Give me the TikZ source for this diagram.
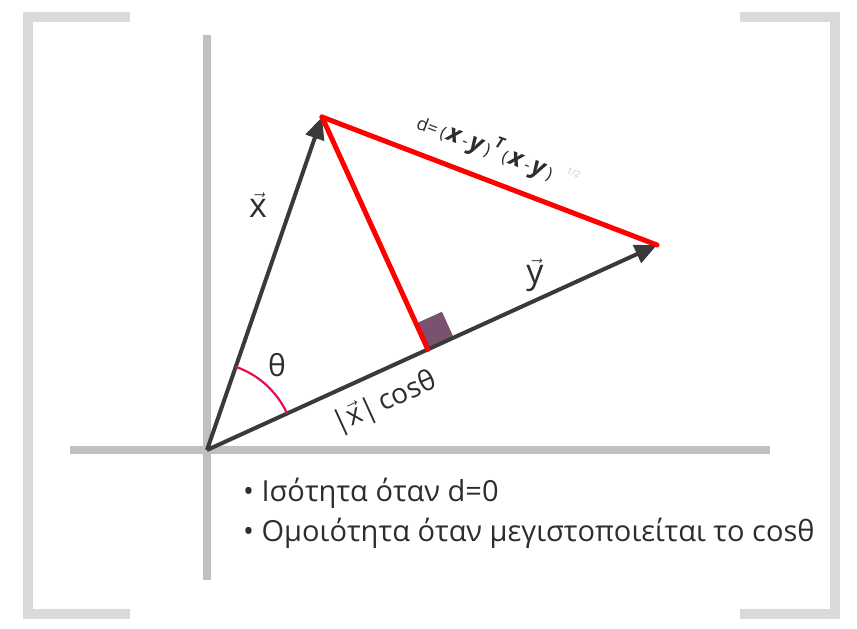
\documentclass[tikz,border=0pt]{standalone}
\usepackage{fontspec}
\setmainfont{Open Sans}
\usetikzlibrary{calc,arrows.meta,angles}
\definecolor{axisgray}{RGB}{192,192,192}
\definecolor{brgray}{RGB}{218,218,218}
\definecolor{vecgray}{RGB}{58,58,58}
\definecolor{thetared}{RGB}{228,16,74}
\definecolor{sqpurple}{RGB}{122,82,112}
\definecolor{txtgray}{RGB}{45,45,45}
\newcommand{\vecl}[1]{\ensuremath{\vec{\mbox{#1}}}}
\newcommand{\bxy}{{\fontsize{13}{14}\selectfont(}\,{\fontsize{19}{20}\selectfont\textbf{\textit{x}}}\,{\fontsize{13}{14}\selectfont-}\,{\fontsize{19}{20}\selectfont\textbf{\textit{y}}}\,{\fontsize{13}{14}\selectfont)}}
\begin{document}
\begin{tikzpicture}[x=1pt,y=1pt,
  axisline/.style={draw=axisgray,line width=8pt},
  bracket/.style={draw=brgray,line width=10pt},
  vecarrow/.style={draw=vecgray,line width=4pt,-{Triangle[length=22pt,width=19pt]}},
  redline/.style={draw=red,line width=5pt,line cap=round},
  lbl/.style={text=txtgray,inner sep=0pt},
  bullet/.style={text=txtgray,anchor=west,inner sep=0pt,font=\fontsize{29}{32}\selectfont}]
\useasboundingbox (0,0) rectangle (857,629);
% brackets
\draw[bracket] (130,612) -- (28,612) -- (28,15) -- (130,15);
\draw[bracket] (740,612) -- (835,612) -- (835,15) -- (740,15);
% axes
\coordinate (vt) at (207,594);
\coordinate (vb) at (207,49);
\coordinate (hl) at (70,179);
\coordinate (hr) at (770,179);
\draw[axisline] (vt) -- (vb);
\draw[axisline] (hl) -- (hr);
% vectors
\coordinate (O) at (207,179);
\coordinate (X) at (322,512);
\coordinate (Y) at (657,384);
\coordinate (F) at ($(O)!(X)!(Y)$);
% right-angle square
\coordinate (S1) at ($(F)!28pt!(Y)$);
\coordinate (S3) at ($(F)!28pt!(X)$);
\coordinate (S2) at ($(S1)+(S3)-(F)$);
\fill[sqpurple,draw=vecgray!80,line width=0.8pt] (F) -- (S1) -- (S2) -- (S3) -- cycle;
\draw[vecarrow] (O) -- (X);
\draw[vecarrow] (O) -- (Y);
\draw[redline] (X) -- (Y);
\draw[redline] (X) -- (F);
% theta arc
\pic[draw=thetared,line width=2.2pt,angle radius=88pt] {angle = Y--O--X};
% labels
\node[lbl,font=\fontsize{34}{36}\selectfont] (lx) at (258,424) {\vecl{x}};
\node[lbl,font=\fontsize{34}{36}\selectfont] (ly) at (535,354) {\vecl{y}};
\node[lbl,font=\fontsize{30}{32}\selectfont] (lt) at (277,264) {θ};
\node[lbl,font=\fontsize{28}{30}\selectfont,rotate=24.5] (lc) at (385,226) {|\vecl{x}|\,cosθ};
\node[lbl,rotate=-20.9,scale=1.3] (ld) at (498,478)
  {{\fontsize{14}{15}\selectfont d=}\;\bxy\,\raisebox{9pt}{\fontsize{12}{13}\selectfont\textbf{\textit{T}}}\,\bxy\hspace{10pt}\raisebox{9pt}{\color{gray!45}\fontsize{7}{8}\selectfont 1/2}};
\node[bullet] (b1) at (243,136) {• Ισότητα όταν d=0};
\node[bullet] (b2) at (243,96) {• Ομοιότητα όταν μεγιστοποιείται το cosθ};
\end{tikzpicture}
\end{document}
